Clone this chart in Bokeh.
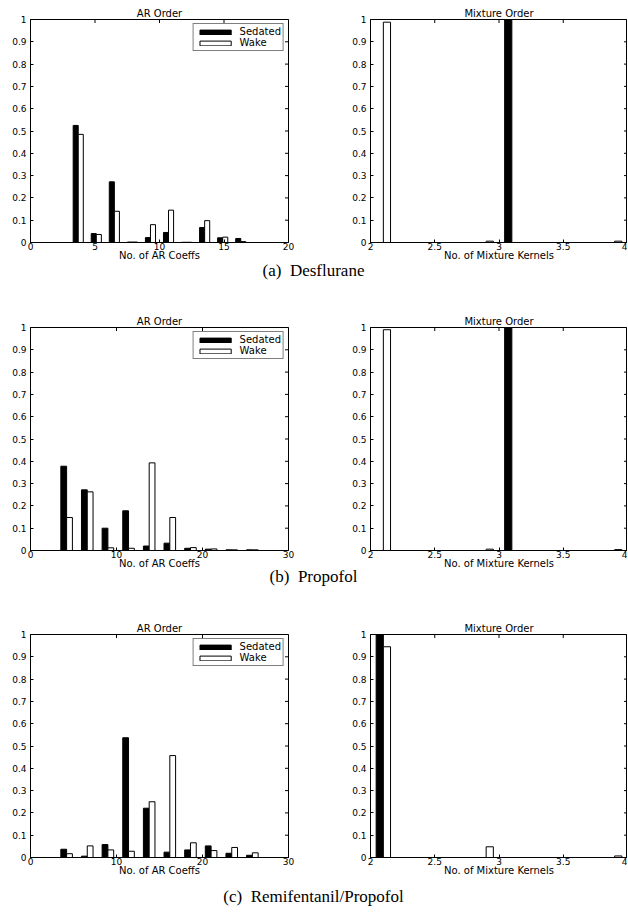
import math
from bokeh.plotting import figure
from bokeh.models import (Range1d, FixedTicker, Div, Legend, LegendItem,
                          ColumnDataSource)
from bokeh.transform import dodge
from bokeh.layouts import column, row
from bokeh.embed import file_html
from bokeh.resources import INLINE

# ---------------- data ----------------
series_names = ["Sedated", "Wake"]

ar_bins_a = [3.7, 5.1, 6.5, 7.9, 9.3, 10.7, 12.1, 13.5, 14.9, 16.3]
ar_sed_a = [0.525, 0.040, 0.272, 0.002, 0.022, 0.045, 0.001, 0.067, 0.021, 0.018]
ar_wake_a = [0.485, 0.036, 0.140, 0.002, 0.080, 0.145, 0.001, 0.098, 0.024, 0.004]

ar_bins_bc = [4.2, 6.6, 9.0, 11.4, 13.8, 16.2, 18.6, 21.0, 23.4, 25.8]
ar_sed_b = [0.378, 0.272, 0.100, 0.178, 0.020, 0.033, 0.010, 0.006, 0.003, 0.003]
ar_wake_b = [0.148, 0.263, 0.012, 0.010, 0.393, 0.148, 0.013, 0.007, 0.003, 0.003]
ar_sed_c = [0.037, 0.006, 0.058, 0.537, 0.221, 0.024, 0.034, 0.052, 0.019, 0.010]
ar_wake_c = [0.017, 0.052, 0.034, 0.028, 0.250, 0.457, 0.066, 0.031, 0.045, 0.021]

mix_bins = [2.1, 2.3, 2.5, 2.7, 2.9, 3.1, 3.3, 3.5, 3.7, 3.9]
mix_sed_a = [0.0, 0.0, 0.0, 0.0, 0.0, 1.0, 0.0, 0.0, 0.0, 0.0]
mix_wake_a = [0.988, 0.0, 0.0, 0.0, 0.006, 0.0, 0.0, 0.0, 0.0, 0.006]
mix_sed_b = [0.0, 0.0, 0.0, 0.0, 0.0, 1.0, 0.0, 0.0, 0.0, 0.0]
mix_wake_b = [0.990, 0.0, 0.0, 0.0, 0.006, 0.0, 0.0, 0.0, 0.0, 0.004]
mix_sed_c = [1.0, 0.0, 0.0, 0.0, 0.0, 0.0, 0.0, 0.0, 0.0, 0.0]
mix_wake_c = [0.945, 0.0, 0.0, 0.0, 0.048, 0.0, 0.0, 0.0, 0.0, 0.007]

y_ticks = [0, 0.1, 0.2, 0.3, 0.4, 0.5, 0.6, 0.7, 0.8, 0.9, 1]
y_tick_labels = ["0", "0.1", "0.2", "0.3", "0.4", "0.5", "0.6", "0.7", "0.8", "0.9", "1"]
ar_ticks_a = [0, 5, 10, 15, 20]
ar_ticks_bc = [0, 10, 20, 30]
mix_ticks = [2, 2.5, 3, 3.5, 4]
mix_tick_labels = ["2", "2.5", "3", "3.5", "4"]

captions = ["(a)  Desflurane", "(b)  Propofol", "(c)  Remifentanil/Propofol"]

# ---------------- style ----------------
FONT = "DejaVu Sans"
TICK_FS = "9px"
LABEL_FS = "10px"
TOP_B, FRAME_H, BOT_B = 19, 223, 24
FIG_H = TOP_B + FRAME_H + BOT_B


def style_axis(ax):
    ax.axis_line_color = "black"
    ax.axis_line_width = 1
    ax.major_tick_line_color = "black"
    ax.major_tick_in = 3
    ax.major_tick_out = 0
    ax.minor_tick_line_color = None
    ax.major_label_text_font = FONT
    ax.major_label_text_font_size = TICK_FS
    ax.major_label_text_color = "black"
    ax.axis_label_text_font = FONT
    ax.axis_label_text_font_size = LABEL_FS
    ax.axis_label_text_font_style = "normal"
    ax.axis_label_text_color = "black"


def panel(bins, sed, wake, xr, xticks, xlabels, title, xlabel, width,
          mbl, mbr, legend):
    p = figure(width=width, height=FIG_H, x_range=Range1d(*xr),
               y_range=Range1d(0, 1), output_backend="svg",
               toolbar_location=None, min_border_left=mbl,
               min_border_right=mbr, min_border_top=TOP_B,
               min_border_bottom=BOT_B, title=title)
    p.title.align = "center"
    p.title.text_font = FONT
    p.title.text_font_size = LABEL_FS
    p.title.text_font_style = "normal"
    p.title.text_color = "black"
    p.title.standoff = 1
    p.xgrid.visible = False
    p.ygrid.visible = False
    p.outline_line_color = "black"
    p.background_fill_color = "white"
    p.border_fill_color = "white"

    spacing = bins[1] - bins[0]
    bw = 0.28 * spacing
    off = 0.14 * spacing
    src = ColumnDataSource(dict(x=bins, sed=sed, wake=wake))
    r1 = p.vbar(x=dodge("x", -off), top="sed", width=bw, source=src,
                fill_color="black", line_color="black", line_width=1)
    r2 = p.vbar(x=dodge("x", off), top="wake", width=bw, source=src,
                fill_color="white", line_color="black", line_width=1)

    # mirrored inward ticks on the top and right edges of the box
    p.scatter(x=[xr[1]] * len(y_ticks), y=y_ticks, marker="dash", size=7,
              line_color="black", line_width=1)
    p.scatter(x=xticks, y=[1] * len(xticks), marker="dash", size=7,
              angle=math.pi / 2, line_color="black", line_width=1)

    # bottom axis
    xa = p.xaxis[0]
    xa.ticker = FixedTicker(ticks=xticks)
    xa.major_label_overrides = {t: l for t, l in zip(xticks, xlabels)}
    xa.axis_label = xlabel
    style_axis(xa)
    xa.major_label_standoff = 0
    xa.axis_label_standoff = -3

    # left axis
    ya = p.yaxis[0]
    ya.ticker = FixedTicker(ticks=y_ticks)
    ya.major_label_overrides = {t: l for t, l in zip(y_ticks, y_tick_labels)}
    style_axis(ya)
    ya.major_label_standoff = 4

    if legend:
        lg = Legend(items=[LegendItem(label=series_names[0], renderers=[r1]),
                           LegendItem(label=series_names[1], renderers=[r2])],
                    location="top_right")
        lg.margin = 4
        lg.padding = 2
        lg.spacing = 0
        lg.glyph_width = 39
        lg.glyph_height = 6
        lg.label_height = 8
        lg.label_standoff = 5
        lg.label_text_font = FONT
        lg.label_text_font_size = LABEL_FS
        lg.label_text_color = "black"
        lg.border_line_color = "black"
        lg.border_line_width = 1
        lg.background_fill_color = "white"
        lg.background_fill_alpha = 1
        p.add_layout(lg)
    return p


def caption(text, h, shift):
    return Div(text=("<div style=\"width:627px; text-align:center; white-space:pre; "
                     "font-family:'Liberation Serif'; font-size:17px; "
                     "line-height:12px; position:relative; top:%dpx; "
                     "color:black;\">%s</div>" % (shift, text)),
               width=627, height=h, margin=0)


LW, RW = 300, 327
sets = [
    (ar_bins_a, ar_sed_a, ar_wake_a, (0, 20), ar_ticks_a, mix_sed_a, mix_wake_a),
    (ar_bins_bc, ar_sed_b, ar_wake_b, (0, 30), ar_ticks_bc, mix_sed_b, mix_wake_b),
    (ar_bins_bc, ar_sed_c, ar_wake_c, (0, 30), ar_ticks_bc, mix_sed_c, mix_wake_c),
]
cap_h = [42, 41, 31]
cap_shift = [-2, -4, 9]
items = []
for i, (bins, s, w, xr, xt, ms, mw) in enumerate(sets):
    left = panel(bins, s, w, xr, xt, [str(t) for t in xt], "AR Order",
                 "No. of AR Coeffs", LW, 30, 12, True)
    right = panel(mix_bins, ms, mw, (2, 4), mix_ticks, mix_tick_labels,
                  "Mixture Order", "No. of Mixture Kernels", RW, 70, 0, False)
    items.append(row(left, right, spacing=0))
    items.append(caption(captions[i], cap_h[i], cap_shift[i]))

layout = column(*items, spacing=0)
open("out.html", "w").write(file_html(layout, INLINE))
